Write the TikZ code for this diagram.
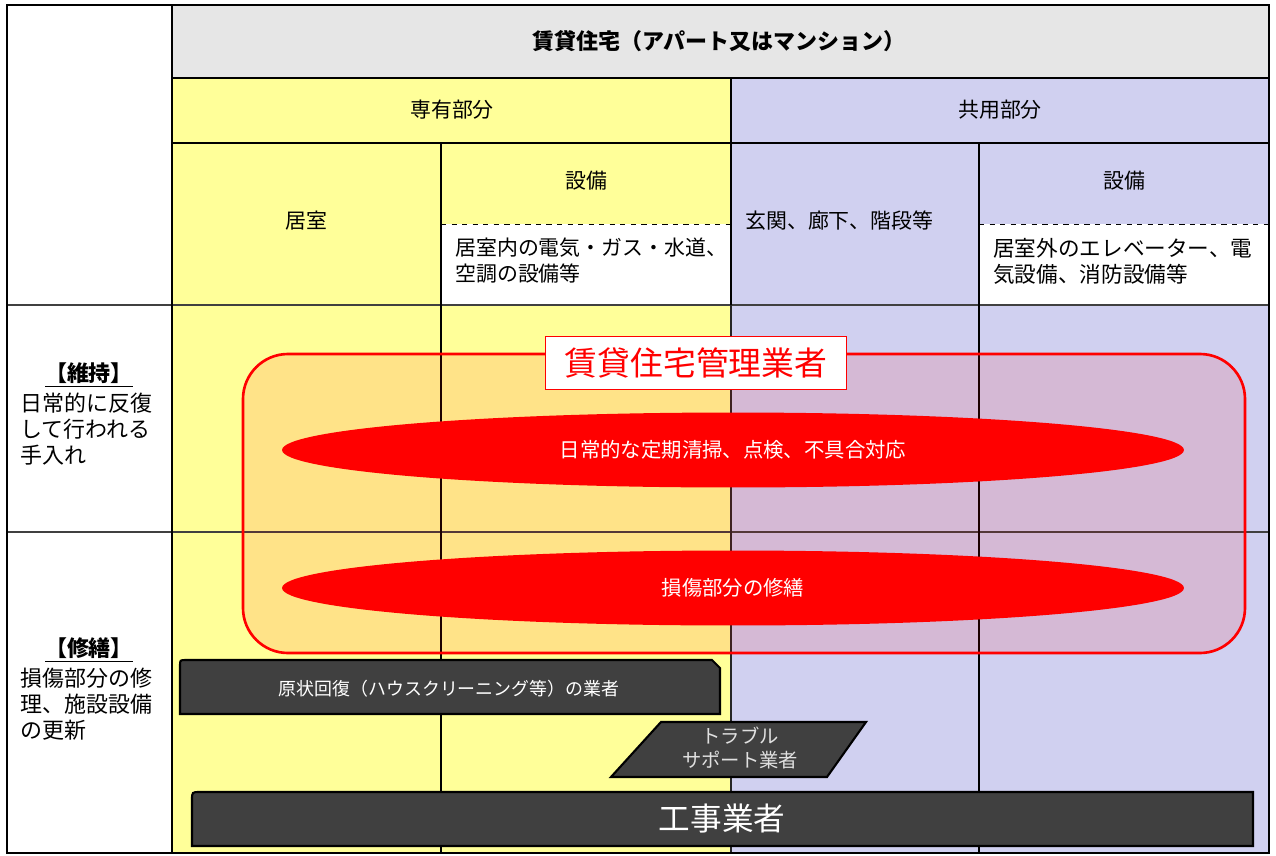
\documentclass[tikz,border=0pt]{standalone}
\usepackage{fontspec}
\setmainfont{Noto Sans CJK JP}
\usepackage{tikz}
\usetikzlibrary{shapes.geometric, positioning}

\definecolor{hdrgray}{HTML}{E6E6E6}
\definecolor{senyucol}{HTML}{FFFF99}
\definecolor{kyoyocol}{HTML}{D0D0F0}
\definecolor{gyoshacol}{HTML}{404040}

\begin{document}
\begin{tikzpicture}[x=0.02cm, y=-0.02cm, font=\fontsize{11.9}{14.7}\selectfont,
    gridline/.style={line width=1.6pt, black},
    thingrid/.style={line width=0.8pt, black!75},
    band/.style={ellipse, fill=red, text=white, inner sep=0pt, minimum width=18.04cm, minimum height=1.5cm, font=\fontsize{11.6}{13}\selectfont},
    darkbox/.style={draw=black, line width=1.2pt, fill=gyoshacol},
    celltext/.style={anchor=west, align=left, inner sep=0pt},
    sidetext/.style={anchor=west, align=left, inner sep=0pt, font=\fontsize{12.5}{14.7}\selectfont}]
        \useasboundingbox (0,0) rectangle (1276,856);
        \fill[white] (0,0) rectangle (1276,856);

        % Backgrounds
        \fill[hdrgray] (172,5) rectangle (1269,78);
        \fill[senyucol] (172,78) rectangle (731,853);
        \fill[kyoyocol] (731,78) rectangle (1269,853);
        \fill[white] (441,224) rectangle (731,305);
        \fill[white] (979,224) rectangle (1269,305);

        % Grid
        \draw[dashed, thin] (441,224) -- (731,224);
        \draw[dashed, thin] (979,224) -- (1269,224);
        \draw[thingrid] (7,305) -- (1269,305);
        \draw[thingrid] (7,532) -- (1269,532);
        \draw[gridline] (172,5) -- (172,853);
        \draw[gridline] (172,78) -- (1269,78);
        \draw[gridline] (172,143) -- (1269,143);
        \draw[gridline] (441,143) -- (441,853);
        \draw[gridline] (731,78) -- (731,305);
        \draw[line width=1.1pt, black!85] (731,305) -- (731,853);
        \draw[gridline] (979,143) -- (979,853);
        \draw[gridline] (7,5) rectangle (1269,853);

        % Header texts
        \node[font=\fontsize{12.5}{14}\selectfont\bfseries] (title) at (719,41) {賃貸住宅（アパート又はマンション）};
        \node (senyu) at (452,110) {専有部分};
        \node (kyoyo) at (1000,110) {共用部分};
        \node (kyoshitsu) at (306,221) {居室};
        \node (setsubiA) at (586,181) {設備};
        \node[celltext] (naibu) at (455,261) {居室内の電気・ガス・水道、\\空調の設備等};
        \node[celltext] (genkan) at (745,221) {玄関、廊下、階段等};
        \node (setsubiB) at (1124,181) {設備};
        \node[celltext, font=\fontsize{12.3}{14.7}\selectfont] (gaibu) at (993,261) {居室外のエレベーター、電\\気設備、消防設備等};

        % Row labels
        \node[font=\fontsize{12.5}{14.7}\selectfont\bfseries] (iji) at (89,375) {\underline{【維持】}};
        \node[sidetext] (ijitext) at (20,429) {日常的に反復\\して行われる\\手入れ};
        \node[font=\fontsize{12.5}{14.7}\selectfont\bfseries] (shuzen) at (89,650) {\underline{【修繕】}};
        \node[sidetext] (shuzentext) at (20,704) {損傷部分の修\\理、施設設備\\の更新};

        % Management company
        \draw[red, line width=1.5pt, fill=red, fill opacity=0.11, rounded corners=0.9cm] (243,354) rectangle (1245,653);
        \node[band] (teiki) at (733,450) {日常的な定期清掃、点検、不具合対応};
        \node[band] (sonsho) at (733,588) {損傷部分の修繕};
        \node[draw=red, fill=white, text=red, line width=0.8pt, inner sep=0pt, minimum width=6.02cm, minimum height=1.06cm, font=\fontsize{18.7}{20}\selectfont] (kanri) at (696,363) {賃貸住宅管理業者};

        % Contractors
        \draw[darkbox] (180,714) -- (180,666) .. controls (180,660) .. (186,660) -- (712,660) -- (720,668) -- (720,714) -- cycle;
        \node[text=white, font=\fontsize{10.2}{12}\selectfont] (genjo) at (449,689) {原状回復（ハウスクリーニング等）の業者};
        \draw[darkbox] (661,722) -- (866,722) -- (827,777) -- (611,777) -- cycle;
        \node[text=white!88!black, align=center, font=\fontsize{11}{13.5}\selectfont] (trouble) at (740,748) {トラブル\\サポート業者};
        \draw[darkbox] (192,846) -- (192,800) .. controls (192,792) .. (200,792) -- (1253,792) -- (1253,846) -- cycle;
        \node[text=white, font=\fontsize{18}{20}\selectfont] (koji) at (722,819) {工事業者};
    \end{tikzpicture}
\end{document}
